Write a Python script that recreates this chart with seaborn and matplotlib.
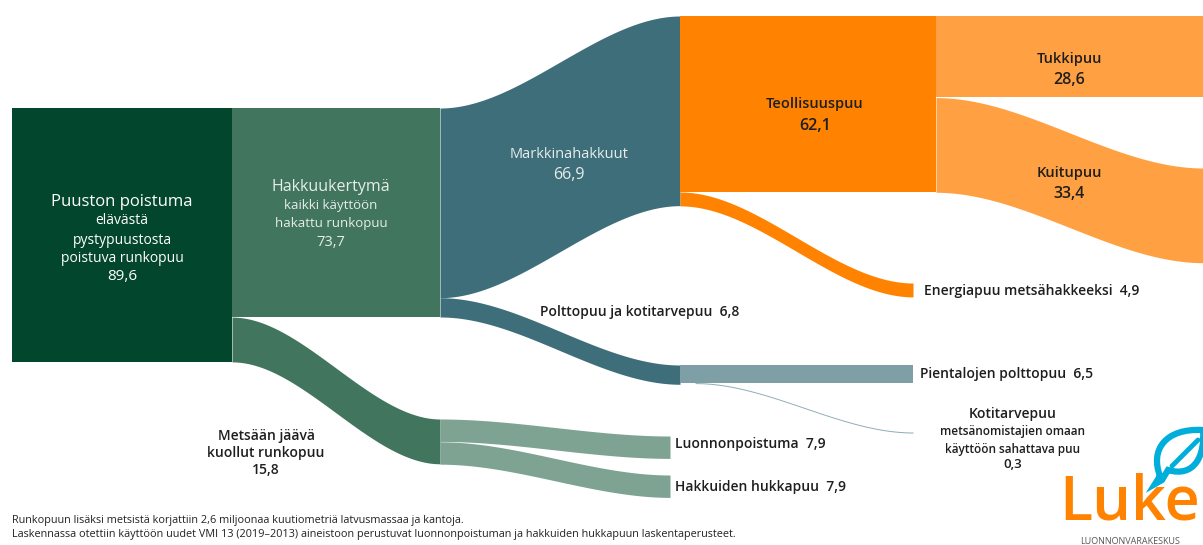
import matplotlib
matplotlib.use("Agg")
import matplotlib.pyplot as plt
from matplotlib.patches import Rectangle, PathPatch
from matplotlib.path import Path
import numpy as np
import pandas as pd
import seaborn as sns

# flows, million m3
flow_src = ["Puuston poistuma", "Puuston poistuma",
            "Hakkuukertymä", "Hakkuukertymä",
            "Markkinahakkuut", "Markkinahakkuut",
            "Teollisuuspuu", "Teollisuuspuu",
            "Polttopuu", "Polttopuu",
            "Metsään jäävä", "Metsään jäävä"]
flow_dst = ["Hakkuukertymä", "Metsään jäävä",
            "Markkinahakkuut", "Polttopuu",
            "Teollisuuspuu", "Energiapuu",
            "Tukkipuu", "Kuitupuu",
            "Pientalojen polttopuu", "Kotitarvepuu",
            "Luonnonpoistuma", "Hakkuiden hukkapuu"]
flow_val = [73.7, 15.8, 66.9, 6.8, 62.1, 4.9, 28.6, 33.4, 6.5, 0.3, 7.9, 7.9]

node_names = ["Puuston poistuma", "Hakkuukertymä", "Teollisuuspuu", "Pientalojen polttopuu"]
node_vals = [89.6, 73.7, 62.1, 6.5]

flows = pd.DataFrame({"src": flow_src, "dst": flow_dst, "val": flow_val})

K = 2.835  # px per million m3

# layout (pixels): x0, x1, top at left, top at right, colour
dgreen = "#02462D"
green = "#41755E"
blue = "#3F6E7B"
orange = "#FF8300"
lorange = "#FFA142"
lgreen = "#7FA393"
lblue = "#7F9FA7"
band_layout = {
    "Hakkuukertymä": None,
    "Metsään jäävä": (232, 440, 317.1, 419, green),
    "Markkinahakkuut": (440, 680, 108, 16, blue),
    "Polttopuu": (440, 680, 297.7, 365, blue),
    "Teollisuuspuu": None,
    "Energiapuu": (680, 913, 192, 283, orange),
    "Tukkipuu": (936, 1203, 16, 16, lorange),
    "Kuitupuu": (936, 1203, 97.6, 168, lorange),
    "Pientalojen polttopuu": (680, 913, 365, 365, lblue),
    "Kotitarvepuu": (695, 913, 382.6, 432, "#8DAEB8"),
    "Luonnonpoistuma": (440, 670, 419, 436, lgreen),
    "Hakkuiden hukkapuu": (440, 670, 441.8, 475, lgreen),
}
node_layout = {
    "Puuston poistuma": (12, 232, 108, dgreen),
    "Hakkuukertymä": (232, 440, 108, green),
    "Teollisuuspuu": (680, 936, 16, orange),
}

sns.set_style("white")
plt.rcParams["font.family"] = ["Open Sans", "DejaVu Sans"]

fig = plt.figure(figsize=(12.03, 5.45), dpi=100)
ax = fig.add_axes([0, 0, 1, 1])
ax.set_xlim(0, 1203)
ax.set_ylim(545, 0)
ax.axis("off")


def band(x0, x1, y0, y1, h, color):
    t = np.linspace(0, 1, 200)
    s = 3 * t ** 2 - 2 * t ** 3
    x = x0 + (x1 - x0) * t
    top = y0 + (y1 - y0) * s
    ax.fill_between(x, top, top + h, color=color, lw=0)


for _, r in flows.iterrows():
    lay = band_layout.get(r["dst"])
    if lay is None:
        continue
    x0, x1, y0, y1, c = lay
    band(x0, x1, y0, y1, max(r["val"] * K, 1.0), c)

for name, v in zip(node_names, node_vals):
    if name not in node_layout:
        continue
    x0, x1, y0, c = node_layout[name]
    ax.add_patch(Rectangle((x0, y0), x1 - x0, v * K, color=c, lw=0))

# labels
dark = "#1E1E1E"
light = "#E6EDEA"


def lines(x, y, items, ha="center"):
    for i, (txt, size, col, w) in enumerate(items):
        ax.text(x, y[i], txt, ha=ha, va="center", fontsize=size, color=col, fontweight=w)


lines(122, [202, 221, 240, 258, 277],
      [("Puuston poistuma", 12, "white", "normal"),
       ("elävästä", 10, "white", "normal"),
       ("pystypuustosta", 10, "white", "normal"),
       ("poistuva runkopuu", 10, "white", "normal"),
       ("89,6", 11, "white", "normal")])
lines(331, [187, 206, 224, 243],
      [("Hakkuukertymä", 11.5, light, "normal"),
       ("kaikki käyttöön", 9.5, light, "normal"),
       ("hakattu runkopuu", 9.5, light, "normal"),
       ("73,7", 10.5, light, "normal")])
lines(569, [155, 175],
      [("Markkinahakkuut", 10.5, light, "normal"),
       ("66,9", 11.5, light, "normal")])
lines(815, [104, 126],
      [("Teollisuuspuu", 10.5, dark, "semibold"),
       ("62,1", 11.5, dark, "semibold")])
lines(1069, [59, 80],
      [("Tukkipuu", 10.5, dark, "semibold"),
       ("28,6", 11.5, dark, "semibold")])
lines(1069, [173, 194],
      [("Kuitupuu", 10.5, dark, "semibold"),
       ("33,4", 11.5, dark, "semibold")])
lines(266, [436, 453, 470],
      [("Metsään jäävä", 10, dark, "semibold"),
       ("kuollut runkopuu", 10, dark, "semibold"),
       ("15,8", 10, dark, "semibold")])
lines(1013, [414, 432, 449, 465],
      [("Kotitarvepuu", 10, dark, "semibold"),
       ("metsänomistajien omaan", 8.5, dark, "semibold"),
       ("käyttöön sahattava puu", 8.5, dark, "semibold"),
       ("0,3", 9.5, dark, "semibold")])

side = [(924, 291, "Energiapuu metsähakkeeksi  4,9"),
        (540, 312, "Polttopuu ja kotitarvepuu  6,8"),
        (920, 374, "Pientalojen polttopuu  6,5"),
        (675, 444, "Luonnonpoistuma  7,9"),
        (675, 487, "Hakkuiden hukkapuu  7,9")]
for x, y, txt in side:
    ax.text(x, y, txt, ha="left", va="center", fontsize=10, color=dark, fontweight="semibold")

ax.text(12, 520, "Runkopuun lisäksi metsistä korjattiin 2,6 miljoonaa kuutiometriä latvusmassaa ja kantoja.",
        ha="left", va="center", fontsize=7.8, color="#222222")
ax.text(12, 535, "Laskennassa otettiin käyttöön uudet VMI 13 (2019–2013) aineistoon perustuvat luonnonpoistuman "
        "ja hakkuiden hukkapuun laskentaperusteet.", ha="left", va="center", fontsize=7.8, color="#222222")

# Luke logo
ax.text(1130, 519, "Luke", ha="center", va="baseline", fontsize=44, color="#FF8300",
        fontweight="semibold")
ax.text(1130, 541, "LUONNONVARAKESKUS", ha="center", va="center", fontsize=6.5, color="#555555")
leaf = Path([(1160, 476), (1150, 450), (1165, 428), (1203, 430),
             (1205, 455), (1195, 478), (1168, 470),
             (1162, 480), (1155, 484), (1160, 476)],
            [Path.MOVETO, Path.CURVE4, Path.CURVE4, Path.CURVE4,
             Path.CURVE4, Path.CURVE4, Path.CURVE4,
             Path.LINETO, Path.LINETO, Path.CLOSEPOLY])
ax.add_patch(PathPatch(leaf, fill=False, ec="#00AEDB", lw=4.5))
ax.plot([1172, 1198], [466, 440], color="#00AEDB", lw=3.5, solid_capstyle="round")

fig.savefig("out.png", dpi=100)
